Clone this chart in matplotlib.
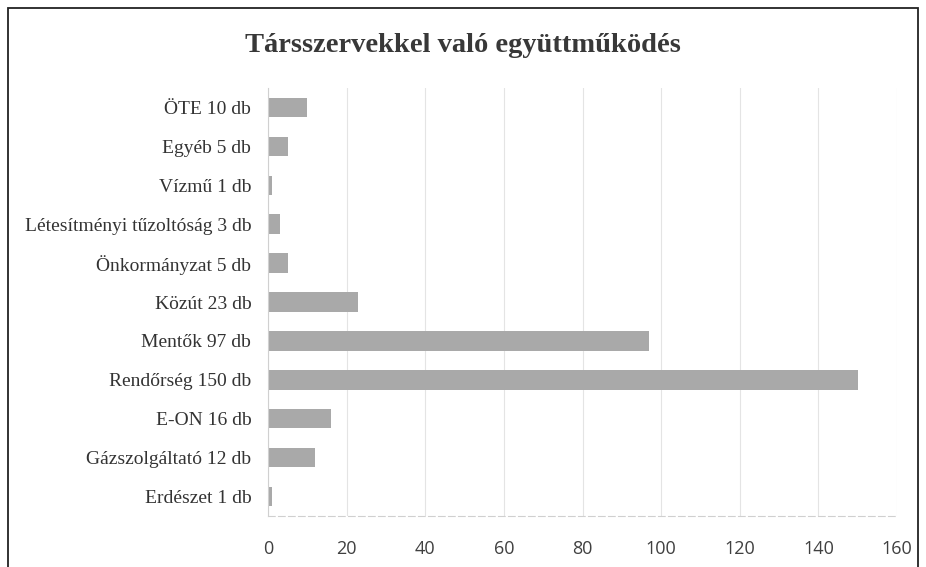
import matplotlib.pyplot as plt
from matplotlib.patches import Rectangle

categories = ['Erdészet 1 db', 'Gázszolgáltató 12 db', 'E-ON 16 db',
              'Rendőrség 150 db', 'Mentők 97 db', 'Közút 23 db',
              'Önkormányzat 5 db', 'Létesítményi tűzoltóság 3 db',
              'Vízmű 1 db', 'Egyéb 5 db', 'ÖTE 10 db']
values = [1, 12, 16, 150, 97, 23, 5, 3, 1, 5, 10]
x_ticks = [0, 20, 40, 60, 80, 100, 120, 140, 160]

fig = plt.figure(figsize=(9.26, 5.67), dpi=100)
ax = fig.add_axes([0.2894, 0.0899, 0.6793, 0.7549])

ax.barh(range(len(categories)), values, height=0.5, color='#a9a9a9', zorder=2)
ax.set_yticks(range(len(categories)))
ax.set_yticklabels(categories, family='Liberation Serif', fontsize=14,
                   color='#333333')
ax.set_ylim(-0.5, len(categories) - 0.5)
ax.set_xlim(0, 160)
ax.set_xticks(x_ticks)
ax.set_xticklabels([str(t) for t in x_ticks], family='Open Sans',
                   fontsize=13, color='#404040')
ax.tick_params(axis='both', length=0)
ax.tick_params(axis='x', pad=17)
ax.tick_params(axis='y', pad=12)

ax.xaxis.grid(True, color='#e4e4e4', lw=0.8, zorder=0)
for side in ['top', 'right']:
    ax.spines[side].set_visible(False)
ax.spines['left'].set_color('#d0d0d0')
ax.spines['bottom'].set_color('#d0d0d0')
ax.spines['bottom'].set_linestyle((0, (6, 3)))

fig.text(0.5, 0.92, 'Társszervekkel való együttműködés',
         family='Liberation Serif', fontweight='bold', fontsize=20.5,
         color='#383838', ha='center', va='center')

# frame round the chart (bottom edge cut off in the scan)
fig.patches.append(Rectangle((8 / 926, -0.02), 910 / 926, 1 - 8 / 567 + 0.02,
                             transform=fig.transFigure, fill=False,
                             edgecolor='#222222', lw=1.3))

fig.savefig('out.png', dpi=100)
